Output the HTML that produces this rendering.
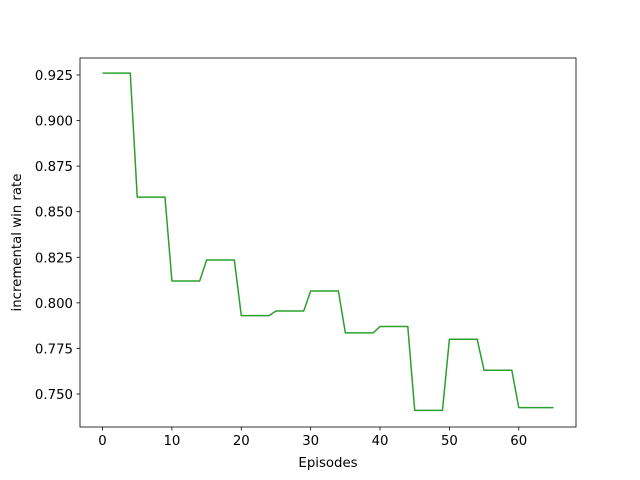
<!DOCTYPE html>
<html><head><meta charset="utf-8"><style>
body{margin:0;background:#fff}
svg{display:block;font-family:"DejaVu Sans","Liberation Sans",sans-serif}
</style></head><body>
<svg id="chart" width="640" height="480"></svg>
<script>
const xTicks=[0,10,20,30,40,50,60];
const yTicks=[0.750,0.775,0.800,0.825,0.850,0.875,0.900,0.925];
const episodes=[];for(let i=0;i<=65;i++)episodes.push(i);
const winRate=[
0.926,0.926,0.926,0.926,0.926,
0.858,0.858,0.858,0.858,0.858,
0.812,0.812,0.812,0.812,0.812,
0.8235,0.8235,0.8235,0.8235,0.8235,
0.793,0.793,0.793,0.793,0.793,
0.7955,0.7955,0.7955,0.7955,0.7955,
0.8065,0.8065,0.8065,0.8065,0.8065,
0.7835,0.7835,0.7835,0.7835,0.7835,
0.787,0.787,0.787,0.787,0.787,
0.741,0.741,0.741,0.741,0.741,
0.780,0.780,0.780,0.780,0.780,
0.763,0.763,0.763,0.763,0.763,
0.7425,0.7425,0.7425,0.7425,0.7425,0.7425];

const NS="http://www.w3.org/2000/svg";
const svg=document.getElementById('chart');
const L=80,R=576,T=58,B=427;
const xMin=-3.25,xMax=68.25;
const yMin=0.7319,yMax=0.9343;
const X=v=>L+(v-xMin)/(xMax-xMin)*(R-L);
const Y=v=>B-(v-yMin)/(yMax-yMin)*(B-T);
function mk(tag,attrs){const e=document.createElementNS(NS,tag);for(const k in attrs)e.setAttribute(k,attrs[k]);svg.appendChild(e);return e;}

const pts=episodes.map((x,i)=>X(x).toFixed(2)+','+Y(winRate[i]).toFixed(2)).join(' ');
const line=mk('polyline',{points:pts,fill:'none',stroke:'#2ca02c','stroke-width':1.5,'stroke-linejoin':'round'});



const frame=mk('rect',{x:L,y:T,width:R-L,height:B-T,fill:'none',stroke:'#000','stroke-width':0.8});



xTicks.forEach(t=>{
  const x=X(t);
  const tk=mk('line',{x1:x,x2:x,y1:B,y2:B+3.5,stroke:'#000','stroke-width':0.8});
  
  
  const tx=mk('text',{x:x,y:B+18,'text-anchor':'middle','font-size':13.3,fill:'#000'});
  tx.textContent=t;
  
  
});
yTicks.forEach(t=>{
  const y=Y(t);
  const tk=mk('line',{x1:L-3.5,x2:L,y1:y,y2:y,stroke:'#000','stroke-width':0.8});
  
  
  const tx=mk('text',{x:L-7,y:y+5,'text-anchor':'end','font-size':13.3,fill:'#000'});
  tx.textContent=t.toFixed(3);
  
  
});
const xl=mk('text',{x:(L+R)/2,y:467,'text-anchor':'middle','font-size':13.3,fill:'#000'});
xl.textContent='Episodes';


const yl=mk('text',{x:0,y:0,'text-anchor':'middle','font-size':13.3,fill:'#000',transform:'translate(21,'+((T+B)/2)+') rotate(-90)'});
yl.textContent='incremental win rate';


</script>
</body></html>
